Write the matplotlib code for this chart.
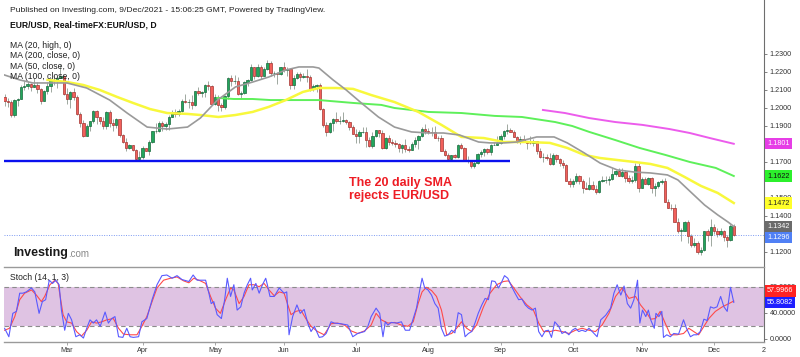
import numpy as np
import pandas as pd
import matplotlib
matplotlib.use("Agg")
import matplotlib.pyplot as plt
import matplotlib.transforms as mtrans

plt.rcParams["font.family"] = ["Liberation Sans", "DejaVu Sans"]

W, H = 800, 357

# --- data: EUR/USD daily candles, 2 Feb - 9 Dec 2021 ---
days = pd.bdate_range("2021-02-02", "2021-12-09")

opens = [
    # Feb
    1.2062, 1.2041, 1.2036, 1.1963, 1.2045, 1.2052, 1.2118, 1.2120, 1.2133, 1.2119,
    1.2130, 1.2105, 1.2041, 1.2092, 1.2120, 1.2156, 1.2149, 1.2167, 1.2175,
    # Mar
    1.2075, 1.2048, 1.2090, 1.2063, 1.1967, 1.1915, 1.1847, 1.1899, 1.1927, 1.1985,
    1.1950, 1.1929, 1.1900, 1.1979, 1.1916, 1.1903, 1.1937, 1.1850, 1.1812, 1.1776,
    1.1794, 1.1764, 1.1718,
    # Apr
    1.1728, 1.1780, 1.1762, 1.1813, 1.1872, 1.1872, 1.1916, 1.1899, 1.1910, 1.1950,
    1.1978, 1.1964, 1.1983, 1.2037, 1.2034, 1.2035, 1.2016, 1.2097, 1.2085, 1.2088,
    1.2126, 1.2122,
    # May
    1.2020, 1.2063, 1.2016, 1.2004, 1.2066, 1.2165, 1.2148, 1.2150, 1.2075, 1.2081,
    1.2144, 1.2153, 1.2225, 1.2175, 1.2227, 1.2180, 1.2214, 1.2250, 1.2192, 1.2195,
    1.2190,
    # Jun
    1.2225, 1.2212, 1.2214, 1.2128, 1.2166, 1.2190, 1.2172, 1.2178, 1.2174, 1.2107,
    1.2121, 1.2125, 1.1995, 1.1906, 1.1864, 1.1917, 1.1940, 1.1925, 1.1928, 1.1936,
    1.1924, 1.1896,
    # Jul
    1.1858, 1.1847, 1.1865, 1.1866, 1.1822, 1.1790, 1.1843, 1.1875, 1.1862, 1.1777,
    1.1835, 1.1812, 1.1806, 1.1800, 1.1779, 1.1794, 1.1771, 1.1769, 1.1802, 1.1820,
    1.1842, 1.1885,
    # Aug
    1.1870, 1.1869, 1.1867, 1.1835, 1.1834, 1.1762, 1.1736, 1.1719, 1.1739, 1.1729,
    1.1795, 1.1780, 1.1712, 1.1709, 1.1675, 1.1697, 1.1747, 1.1755, 1.1773, 1.1756,
    1.1795, 1.1796,
    # Sep
    1.1807, 1.1842, 1.1873, 1.1879, 1.1869, 1.1841, 1.1819, 1.1825, 1.1813, 1.1807,
    1.1806, 1.1817, 1.1763, 1.1725, 1.1727, 1.1724, 1.1688, 1.1741, 1.1719, 1.1696,
    1.1684, 1.1596,
    # Oct
    1.1579, 1.1595, 1.1620, 1.1597, 1.1556, 1.1552, 1.1573, 1.1552, 1.1531, 1.1592,
    1.1599, 1.1601, 1.1607, 1.1632, 1.1651, 1.1623, 1.1643, 1.1609, 1.1597, 1.1602,
    1.1680,
    # Nov
    1.1558, 1.1607, 1.1580, 1.1610, 1.1555, 1.1567, 1.1589, 1.1594, 1.1479, 1.1446,
    1.1445, 1.1369, 1.1319, 1.1319, 1.1368, 1.1289, 1.1237, 1.1250, 1.1198, 1.1210,
    1.1318, 1.1294,
    # Dec
    1.1338, 1.1319, 1.1301, 1.1315, 1.1285, 1.1266, 1.1343,
]
highs = [
    1.2075, 1.2058, 1.2042, 1.2050, 1.2055, 1.2128, 1.2150, 1.2149, 1.2140, 1.2169,
    1.2145, 1.2110, 1.2098, 1.2145, 1.2168, 1.2181, 1.2180, 1.2243, 1.2183,
    1.2113, 1.2094, 1.2113, 1.2070, 1.1978, 1.1932, 1.1912, 1.1929, 1.1990, 1.1989,
    1.1952, 1.1952, 1.1985, 1.1990, 1.1938, 1.1943, 1.1940, 1.1856, 1.1834, 1.1800,
    1.1797, 1.1771, 1.1760,
    1.1789, 1.1780, 1.1821, 1.1873, 1.1914, 1.1928, 1.1928, 1.1920, 1.1960, 1.1990,
    1.1995, 1.1994, 1.2048, 1.2080, 1.2048, 1.2071, 1.2097, 1.2117, 1.2097, 1.2134,
    1.2150, 1.2127,
    1.2077, 1.2070, 1.2030, 1.2072, 1.2172, 1.2181, 1.2182, 1.2172, 1.2097, 1.2150,
    1.2160, 1.2245, 1.2230, 1.2245, 1.2240, 1.2226, 1.2266, 1.2262, 1.2205, 1.2200,
    1.2225,
    1.2254, 1.2227, 1.2219, 1.2185, 1.2198, 1.2200, 1.2195, 1.2219, 1.2182, 1.2135,
    1.2132, 1.2138, 1.2000, 1.1920, 1.1920, 1.1945, 1.1975, 1.1955, 1.1975, 1.1938,
    1.1929, 1.1903,
    1.1885, 1.1875, 1.1895, 1.1895, 1.1840, 1.1868, 1.1880, 1.1880, 1.1880, 1.1838,
    1.1852, 1.1827, 1.1822, 1.1805, 1.1800, 1.1829, 1.1790, 1.1810, 1.1840, 1.1849,
    1.1892, 1.1909,
    1.1891, 1.1893, 1.1900, 1.1845, 1.1850, 1.1770, 1.1752, 1.1741, 1.1746, 1.1802,
    1.1806, 1.1785, 1.1733, 1.1713, 1.1706, 1.1749, 1.1764, 1.1775, 1.1778, 1.1801,
    1.1810, 1.1846,
    1.1857, 1.1875, 1.1909, 1.1887, 1.1875, 1.1845, 1.1844, 1.1848, 1.1816, 1.1845,
    1.1830, 1.1818, 1.1780, 1.1750, 1.1743, 1.1752, 1.1750, 1.1746, 1.1721, 1.1712,
    1.1688, 1.1613,
    1.1608, 1.1641, 1.1626, 1.1605, 1.1586, 1.1616, 1.1595, 1.1572, 1.1600, 1.1624,
    1.1624, 1.1624, 1.1669, 1.1658, 1.1667, 1.1665, 1.1655, 1.1625, 1.1620, 1.1692,
    1.1692,
    1.1616, 1.1614, 1.1617, 1.1616, 1.1581, 1.1597, 1.1608, 1.1610, 1.1494, 1.1465,
    1.1464, 1.1386, 1.1335, 1.1373, 1.1375, 1.1298, 1.1275, 1.1262, 1.1226, 1.1319,
    1.1330, 1.1383,
    1.1353, 1.1334, 1.1335, 1.1320, 1.1297, 1.1355, 1.1354,
]
lows = [
    1.2011, 1.2003, 1.1952, 1.1952, 1.2011, 1.2048, 1.2099, 1.2105, 1.2092, 1.2117,
    1.2085, 1.2023, 1.2037, 1.2077, 1.2091, 1.2130, 1.2109, 1.2166, 1.2071,
    1.2022, 1.2000, 1.2043, 1.1963, 1.1893, 1.1836, 1.1844, 1.1870, 1.1916, 1.1911,
    1.1910, 1.1885, 1.1882, 1.1893, 1.1873, 1.1888, 1.1840, 1.1805, 1.1762, 1.1772,
    1.1761, 1.1712, 1.1704,
    1.1715, 1.1760, 1.1740, 1.1805, 1.1862, 1.1865, 1.1870, 1.1878, 1.1876, 1.1948,
    1.1950, 1.1955, 1.1980, 1.2025, 1.2000, 1.1995, 1.2010, 1.2070, 1.2063, 1.2062,
    1.2101, 1.2019,
    1.2015, 1.1986, 1.1985, 1.1995, 1.2050, 1.2124, 1.2131, 1.2070, 1.2052, 1.2076,
    1.2120, 1.2150, 1.2160, 1.2170, 1.2160, 1.2177, 1.2210, 1.2175, 1.2170, 1.2133,
    1.2185,
    1.2200, 1.2180, 1.2107, 1.2104, 1.2160, 1.2150, 1.2165, 1.2144, 1.2093, 1.2093,
    1.2088, 1.1990, 1.1893, 1.1847, 1.1862, 1.1870, 1.1915, 1.1912, 1.1920, 1.1910,
    1.1880, 1.1858,
    1.1808, 1.1807, 1.1860, 1.1782, 1.1782, 1.1780, 1.1838, 1.1837, 1.1772, 1.1772,
    1.1795, 1.1795, 1.1783, 1.1755, 1.1752, 1.1756, 1.1753, 1.1764, 1.1781, 1.1770,
    1.1838, 1.1856,
    1.1853, 1.1845, 1.1835, 1.1818, 1.1762, 1.1731, 1.1716, 1.1706, 1.1720, 1.1722,
    1.1773, 1.1710, 1.1694, 1.1665, 1.1664, 1.1690, 1.1730, 1.1734, 1.1746, 1.1736,
    1.1793, 1.1795,
    1.1801, 1.1830, 1.1855, 1.1865, 1.1840, 1.1806, 1.1802, 1.1809, 1.1770, 1.1798,
    1.1791, 1.1746, 1.1723, 1.1702, 1.1710, 1.1684, 1.1683, 1.1700, 1.1676, 1.1667,
    1.1592, 1.1562,
    1.1563, 1.1583, 1.1578, 1.1529, 1.1550, 1.1542, 1.1547, 1.1524, 1.1529, 1.1586,
    1.1584, 1.1571, 1.1602, 1.1620, 1.1620, 1.1618, 1.1590, 1.1585, 1.1584, 1.1586,
    1.1535,
    1.1555, 1.1575, 1.1571, 1.1528, 1.1513, 1.1554, 1.1576, 1.1478, 1.1446, 1.1433,
    1.1366, 1.1308, 1.1263, 1.1314, 1.1250, 1.1226, 1.1225, 1.1186, 1.1185, 1.1205,
    1.1259, 1.1235,
    1.1301, 1.1285, 1.1290, 1.1262, 1.1228, 1.1263, 1.1289,
]
closes = [
    1.2041, 1.2036, 1.1963, 1.2045, 1.2052, 1.2118, 1.2120, 1.2133, 1.2119, 1.2130,
    1.2105, 1.2041, 1.2092, 1.2120, 1.2156, 1.2149, 1.2167, 1.2175, 1.2075,
    1.2048, 1.2090, 1.2063, 1.1967, 1.1915, 1.1847, 1.1899, 1.1927, 1.1985, 1.1950,
    1.1929, 1.1900, 1.1979, 1.1916, 1.1903, 1.1937, 1.1850, 1.1812, 1.1776, 1.1794,
    1.1764, 1.1718, 1.1728,
    1.1780, 1.1762, 1.1813, 1.1872, 1.1872, 1.1916, 1.1899, 1.1910, 1.1950, 1.1978,
    1.1964, 1.1983, 1.2037, 1.2034, 1.2035, 1.2016, 1.2097, 1.2085, 1.2088, 1.2126,
    1.2122, 1.2020,
    1.2063, 1.2016, 1.2004, 1.2066, 1.2165, 1.2148, 1.2150, 1.2075, 1.2081, 1.2144,
    1.2153, 1.2225, 1.2175, 1.2227, 1.2180, 1.2214, 1.2250, 1.2192, 1.2195, 1.2190,
    1.2225,
    1.2212, 1.2214, 1.2128, 1.2166, 1.2190, 1.2172, 1.2178, 1.2174, 1.2107, 1.2121,
    1.2125, 1.1995, 1.1906, 1.1864, 1.1917, 1.1940, 1.1925, 1.1928, 1.1936, 1.1924,
    1.1896, 1.1858,
    1.1847, 1.1865, 1.1866, 1.1822, 1.1790, 1.1843, 1.1875, 1.1862, 1.1777, 1.1835,
    1.1812, 1.1806, 1.1800, 1.1779, 1.1794, 1.1771, 1.1769, 1.1802, 1.1820, 1.1842,
    1.1885, 1.1870,
    1.1869, 1.1867, 1.1835, 1.1834, 1.1762, 1.1736, 1.1719, 1.1739, 1.1729, 1.1795,
    1.1780, 1.1712, 1.1709, 1.1675, 1.1697, 1.1747, 1.1755, 1.1773, 1.1756, 1.1795,
    1.1796, 1.1807,
    1.1842, 1.1873, 1.1879, 1.1869, 1.1841, 1.1819, 1.1825, 1.1813, 1.1807, 1.1806,
    1.1817, 1.1763, 1.1725, 1.1727, 1.1724, 1.1688, 1.1741, 1.1719, 1.1696, 1.1684,
    1.1596, 1.1579,
    1.1595, 1.1620, 1.1597, 1.1556, 1.1552, 1.1573, 1.1552, 1.1531, 1.1592, 1.1599,
    1.1601, 1.1607, 1.1632, 1.1651, 1.1623, 1.1643, 1.1609, 1.1597, 1.1602, 1.1680,
    1.1558,
    1.1607, 1.1580, 1.1610, 1.1555, 1.1567, 1.1589, 1.1594, 1.1479, 1.1446, 1.1445,
    1.1369, 1.1319, 1.1319, 1.1368, 1.1289, 1.1237, 1.1250, 1.1198, 1.1210, 1.1318,
    1.1294, 1.1338,
    1.1319, 1.1301, 1.1315, 1.1285, 1.1266, 1.1343, 1.1296,
]

# moving averages (trading-day number, price)
ma20_day = [0, 4.6, 8.6, 19, 25, 32, 37.3, 43.4, 49.5, 55.7, 59.6, 64.8, 70.3, 75.5,
            80.4, 85.6, 89.6, 93.9, 95.7, 100, 104, 108.6, 113.8, 118.7, 123.9, 129,
            133.6, 138.5, 144.3, 147.7, 152, 156, 162, 167.3, 171.3, 176.5, 181.3,
            186.5, 191.7, 196.6, 201.8, 205, 208.9, 213.1, 217.1, 220.2, 222]
ma20_val = [1.2183, 1.2156, 1.2139, 1.2139, 1.2111, 1.2044, 1.1972, 1.1894, 1.1883,
            1.1894, 1.1944, 1.2044, 1.2117, 1.2144, 1.2172, 1.2211, 1.2228, 1.2228,
            1.2222, 1.2156, 1.2100, 1.2028, 1.1950, 1.1894, 1.1867, 1.1861, 1.1861,
            1.1850, 1.1811, 1.1806, 1.1806, 1.1811, 1.1839, 1.1839, 1.1806, 1.1750,
            1.1694, 1.1656, 1.1644, 1.1639, 1.1628, 1.1600, 1.1533, 1.1461, 1.1406,
            1.1367, 1.1342]
ma50_day = [13.1, 19, 23.9, 29, 34.3, 39.1, 44.3, 49.5, 55.7, 59.6, 65.1, 70.3, 75.5,
            80.4, 85.6, 90.8, 95.7, 100.9, 106.1, 111.6, 118.7, 126, 133, 139.1,
            145.9, 152, 159, 166, 171.3, 176.5, 181.3, 186.5, 191.7, 196.6, 201.8,
            207, 212, 217.1, 222]
ma50_val = [1.2156, 1.2144, 1.2128, 1.2100, 1.2061, 1.2028, 1.1994, 1.1972, 1.1967,
            1.1961, 1.1950, 1.1961, 1.1978, 1.2006, 1.2044, 1.2089, 1.2111, 1.2111,
            1.2106, 1.2072, 1.2033, 1.1978, 1.1906, 1.1839, 1.1833, 1.1811, 1.1811,
            1.1806, 1.1778, 1.1739, 1.1722, 1.1711, 1.1700, 1.1689, 1.1667, 1.1617,
            1.1567, 1.1528, 1.1472]
ma100_day = [64.8, 69.7, 75.5, 81, 85.6, 95.7, 106.1, 114.7, 118.7, 129, 139.1, 149.2,
             157.5, 167.6, 172.8, 178, 185.9, 193.3, 201.2, 208.6, 216.5, 222]
ma100_val = [1.2056, 1.2050, 1.2050, 1.2044, 1.2044, 1.2044, 1.2028, 1.2017, 1.2000,
             1.1978, 1.1972, 1.1956, 1.1950, 1.1922, 1.1900, 1.1867, 1.1822, 1.1778,
             1.1739, 1.1700, 1.1667, 1.1622]
ma200_day = [163.9, 170.6, 178, 185.9, 194.2, 202.4, 208.6, 214.7, 222]
ma200_val = [1.1989, 1.1972, 1.1944, 1.1922, 1.1906, 1.1883, 1.1861, 1.1833, 1.1801]

# stochastic (14, 1, 3): %K (blue) and %D (red)
k_day = [0.0, 1.3, 2.5, 3.6, 4.6, 5.6, 6.6, 8.2, 9.2, 10.5,
         11.5, 12.5, 13.6, 14.6, 15.6, 16.6, 17.3, 18.3, 19.4, 20.4,
         21.7, 22.9, 24.0, 25.0, 26.0, 27.0, 28.0, 29.1, 30.6, 31.6,
         32.6, 33.6, 34.7, 36.0, 37.2, 38.2, 39.2, 40.8, 41.8, 43.3,
         44.9, 46.4, 47.9, 49.4, 51.0, 52.5, 54.0, 56.1, 57.4, 58.6,
         60.1, 61.2, 62.2, 62.9, 63.7, 64.7, 66.0, 67.0, 67.8, 68.8,
         69.8, 70.8, 71.9, 72.9, 73.9, 74.9, 75.4, 76.5, 77.5, 78.5,
         79.5, 80.0, 80.8, 82.1, 83.6, 85.1, 85.9, 86.6, 87.7, 89.0,
         90.0, 91.2, 92.3, 93.3, 94.3, 95.8, 96.8, 97.9, 99.4, 100.4,
         102.4, 104.5, 106.0, 107.5, 109.6, 110.6, 111.6, 113.1, 114.2, 115.2,
         115.9, 116.7, 117.7, 119.3, 120.8, 122.0, 123.3, 124.4, 125.4, 126.4,
         127.1, 127.9, 128.9, 130.0, 131.0, 132.0, 133.0, 134.0, 135.1, 136.1,
         137.1, 138.1, 139.1, 140.2, 141.2, 142.2, 143.2, 144.2, 145.3, 146.3,
         147.3, 148.3, 149.3, 150.4, 151.4, 152.2, 153.2, 154.4, 155.4, 156.5,
         157.5, 158.5, 159.5, 160.6, 161.6, 162.6, 163.6, 164.6, 165.6, 166.5,
         167.5, 168.7, 169.7, 170.7, 171.8, 172.8, 173.8, 174.8, 175.8, 176.9,
         177.9, 178.9, 180.4, 181.5, 183.0, 184.5, 185.5, 186.5, 187.6, 188.6,
         189.6, 190.6, 191.6, 192.7, 193.4, 194.2, 195.2, 196.0, 196.7, 197.8,
         198.3, 199.2, 200.1, 200.6, 201.6, 202.7, 203.7, 205.2, 206.7, 207.6,
         208.8, 209.8, 210.8, 211.8, 212.9, 213.9, 214.9, 215.9, 216.9, 218.0,
         219.0, 220.0, 221.0, 222.0]
k_val = [16, 3, 39, 42, 70, 70, 72, 78, 72, 39,
         57, 60, 90, 85, 90, 83, 44, 13, 39, 29,
         3, 6, 1, 16, 29, 24, 29, 19, 41, 24,
         31, 34, 3, 2, 16, 3, 2, 3, 26, 31,
         60, 83, 97, 98, 93, 97, 91, 88, 98, 90,
         90, 90, 70, 54, 57, 37, 31, 60, 93, 65,
         83, 44, 49, 70, 83, 93, 75, 85, 70, 83,
         93, 83, 65, 65, 78, 70, 72, 6, 34, 52,
         39, 45, 24, 11, 19, 2, 3, 8, 26, 24,
         23, 21, 3, 8, 11, 19, 34, 47, 39, 3,
         26, 21, 25, 24, 26, 13, 13, 31, 47, 75,
         93, 78, 75, 67, 54, 47, 16, 4, 6, 13,
         9, 40, 37, 3, 8, 11, 24, 39, 52, 62,
         60, 89, 88, 78, 88, 97, 93, 80, 70, 60,
         61, 52, 47, 44, 47, 11, 3, 12, 13, 2,
         26, 19, 8, 11, 6, 13, 16, 11, 13, 11,
         16, 11, 3, 29, 36, 47, 70, 83, 67, 81,
         54, 47, 60, 90, 24, 44, 34, 44, 29, 16,
         39, 34, 42, 2, 6, 3, 8, 7, 29, 16,
         3, 6, 6, 11, 30, 28, 49, 47, 49, 65,
         49, 42, 79, 55.8082]
d_day = [0.0, 1.5, 3.1, 4.6, 6.1, 8.2, 9.7, 11.2, 12.2, 13.8,
         15.3, 16.3, 17.8, 18.9, 20.4, 21.9, 23.4, 25.0, 26.5, 28.0,
         29.6, 31.1, 33.1, 34.7, 36.2, 38.2, 40.3, 41.8, 43.3, 44.9,
         46.4, 48.4, 50.5, 52.5, 54.5, 56.1, 57.6, 59.6, 61.2, 62.7,
         64.2, 65.7, 67.3, 68.8, 69.8, 71.4, 72.9, 74.4, 75.9, 77.5,
         79.0, 80.5, 82.1, 83.6, 85.1, 86.1, 87.2, 88.7, 90.2, 91.7,
         93.3, 95.3, 97.3, 99.4, 101.4, 103.5, 105.5, 107.5, 109.6, 111.6,
         113.1, 114.7, 116.7, 118.8, 120.8, 122.8, 124.4, 125.9, 127.1, 128.4,
         130.0, 131.5, 133.0, 134.6, 136.1, 137.6, 139.1, 140.7, 142.2, 143.7,
         145.8, 147.8, 149.8, 151.9, 153.4, 154.9, 157.0, 159.0, 161.0, 162.6,
         164.1, 166.1, 167.7, 169.7, 171.8, 173.8, 175.8, 177.9, 179.9, 181.9,
         184.0, 186.0, 188.0, 190.1, 192.1, 193.6, 195.2, 196.7, 198.2, 199.6,
         201.1, 202.7, 204.7, 206.7, 208.3, 209.8, 211.3, 212.9, 214.4, 216.4,
         218.5, 220.5, 222.0]
d_val = [13, 16, 34, 60, 70, 75, 67, 57, 65, 83,
         90, 85, 37, 26, 24, 11, 4, 13, 26, 24,
         26, 29, 31, 16, 7, 6, 6, 19, 34, 57,
         78, 90, 93, 95, 89, 86, 93, 89, 85, 65,
         47, 39, 60, 78, 75, 54, 65, 83, 83, 80,
         85, 75, 66, 72, 70, 54, 37, 42, 44, 31,
         19, 11, 6, 23, 24, 21, 12, 8, 12, 21,
         39, 29, 24, 25, 21, 19, 26, 54, 72, 79,
         74, 65, 44, 6, 8, 16, 26, 16, 11, 21,
         49, 70, 83, 88, 89, 79, 64, 52, 44, 24,
         11, 11, 13, 11, 8, 13, 16, 13, 11, 21,
         39, 65, 78, 62, 65, 52, 42, 30, 31, 42,
         24, 6, 6, 8, 16, 11, 6, 19, 31, 42,
         49, 54, 57.9966]

support_level = 1.1707
support_days = (0, 154)
stoch_band = (20, 80)
price_ticks = [1.12, 1.13, 1.14, 1.15, 1.16, 1.17, 1.18, 1.19, 1.20, 1.21, 1.22, 1.23]
# labels that sit fully under a price tag in the original are left blank
hidden_ticks = [1.13, 1.16, 1.18]
stoch_ticks = [0, 40, 80]

assert len(opens) == len(highs) == len(lows) == len(closes) == len(days)
assert len(k_day) == len(k_val) and len(d_day) == len(d_val)

# --- figure ---
fig = plt.figure(figsize=(W / 100, H / 100), dpi=100)
fig.patch.set_facecolor("white")

def fx(px):
    return px / W

def fy(py):
    return 1 - py / H

ax = fig.add_axes([fx(4), fy(266), fx(764) - fx(4), 266 / H])
sx = fig.add_axes([fx(4), fy(342), fx(764) - fx(4), 75 / H])
for a in (ax, sx):
    a.set_xlim(-0.18, 231.2)
ax.set_ylim(1.1122, 1.26)
sx.set_ylim(-5.1, 110.3)

# candles
o, h, l, c = map(np.array, (opens, highs, lows, closes))
idx = np.arange(len(days))
up = c >= o
body = np.maximum(np.abs(c - o), 0.00012)
bottom = np.minimum(o, c)
ax.vlines(idx, l, h, color="#8f9a90", lw=0.6, zorder=2)
ax.bar(idx[up], body[up], bottom=bottom[up], width=0.72, color="#22a65c",
       edgecolor="#17683b", lw=0.5, zorder=3)
ax.bar(idx[~up], body[~up], bottom=bottom[~up], width=0.72, color="#f2605b",
       edgecolor="#a13431", lw=0.5, zorder=3)

# moving averages
ax.plot(ma200_day, ma200_val, color="#ec5cec", lw=1.4, zorder=4)
ax.plot(ma100_day, ma100_val, color="#5ef05a", lw=1.4, zorder=4)
ax.plot(ma50_day, ma50_val, color="#f8f83c", lw=1.8, zorder=4)
ax.plot(ma20_day, ma20_val, color="#9a9a9a", lw=1.2, zorder=4)

# support and last price
ax.hlines(support_level, support_days[0] - 0.18, support_days[1], color="#0a10ee",
          lw=1.7, zorder=5)
ax.axhline(closes[-1], color="#7c9af2", lw=0.7, ls=(0, (1, 1.5)), zorder=1)

ax.text(105.0, 1.1546, "The 20 daily SMA\nrejects EUR/USD", color="#ee1c24",
        fontsize=9, fontweight="bold", ha="left", va="center", linespacing=1.05,
        zorder=6)

# right-hand price axis
for s in ("left", "top", "bottom"):
    ax.spines[s].set_visible(False)
ax.spines["right"].set_color("#6e6e6e")
ax.spines["right"].set_linewidth(0.8)
ax.set_xticks([])
ax.yaxis.tick_right()
ax.set_yticks(price_ticks)
ax.set_yticklabels(["" if t in hidden_ticks else f"{t:.4f}" for t in price_ticks])
ax.tick_params(axis="y", length=2.5, width=0.6, color="#6e6e6e", labelsize=5.2,
               labelcolor="#333333", pad=1.5)


def tag(axis, val, text, bg, fg, dy=0):
    tr = mtrans.blended_transform_factory(axis.transAxes, axis.transData)
    tr = mtrans.offset_copy(tr, fig=fig, x=3, y=dy, units="dots")
    axis.text(1.0, val, text, transform=tr, ha="left", va="center", fontsize=5.2,
              color=fg, clip_on=False, zorder=10,
              bbox=dict(boxstyle="square,pad=0.3", fc=bg, ec="none"))


tag(ax, ma200_val[-1], f"{ma200_val[-1]:.4f}", "#e63ee6", "white")
tag(ax, ma100_val[-1], f"{ma100_val[-1]:.4f}", "#2cf02c", "#111111")
tag(ax, ma50_val[-1], f"{ma50_val[-1]:.4f}", "#ffff2a", "#222222")
tag(ax, ma20_val[-1], f"{ma20_val[-1]:.4f}", "#6b6b6b", "white")
tag(ax, closes[-1], f"{closes[-1]:.4f}", "#5080f5", "white", dy=-2.5)

# stochastic panel
sx.axhspan(stoch_band[0], stoch_band[1], color="#dfc3e3", lw=0, zorder=0)
for lvl in stoch_band:
    sx.axhline(lvl, color="#8c8c8c", lw=0.8, ls=(0, (4, 3)), zorder=1)
sx.plot(d_day, d_val, color="#ff4a4a", lw=0.8, zorder=3)
sx.plot(k_day, k_val, color="#5a5aff", lw=0.8, zorder=4)

sx.spines["left"].set_visible(False)
for s in ("top", "bottom"):
    sx.spines[s].set_color("#9a9a9a")
    sx.spines[s].set_linewidth(1.0)
sx.spines["right"].set_color("#6e6e6e")
sx.spines["right"].set_linewidth(0.8)
sx.yaxis.tick_right()
sx.set_yticks(stoch_ticks)
sx.set_yticklabels([f"{t:.4f}" for t in stoch_ticks])
sx.tick_params(axis="y", length=2.5, width=0.6, color="#6e6e6e", labelsize=5.2,
               labelcolor="#333333", pad=1.5)

month_idx = [i for i in range(1, len(days)) if days[i].month != days[i - 1].month]
sx.set_xticks(month_idx)
sx.set_xticklabels([days[i].strftime("%b") for i in month_idx])
sx.tick_params(axis="x", length=2, width=0.6, color="#9a9a9a", labelsize=5.2,
               labelcolor="#333333", pad=1.5)
sx.text(231.0, -0.06, "2", transform=mtrans.blended_transform_factory(sx.transData, sx.transAxes),
        fontsize=5.2, color="#333333", ha="center", va="top", clip_on=False)

tag(sx, k_val[-1], f"{k_val[-1]:.4f}", "#1f1fff", "white")
tag(sx, d_val[-1], f"{d_val[-1]:.4f}", "#ff2222", "white", dy=10)

sx.text(0.008, 0.86, "Stoch (14, 1, 3)", transform=sx.transAxes, fontsize=6.2,
        color="#222222", ha="left", va="center")

# header texts and labels
fig.text(fx(10), fy(11), "Published on Investing.com, 9/Dec/2021 - 15:06:25 GMT, Powered by TradingView.",
         fontsize=6.1, color="#222222", va="center")
fig.text(fx(10), fy(25), "EUR/USD, Real-timeFX:EUR/USD, D", fontsize=6.2,
         fontweight="bold", color="#111111", va="center")
for k, lab in enumerate(["MA (20, high, 0)", "MA (200, close, 0)",
                         "MA (50, close, 0)", "MA (100, close, 0)"]):
    fig.text(fx(10), fy(45 + 10.6 * k), lab, fontsize=6.2, color="#222222",
             va="center", zorder=10)

fig.text(fx(13), fy(253), "Investing", fontsize=9, fontweight="bold",
         color="#1a1a1a", va="center")
fig.text(fx(68), fy(254), ".com", fontsize=7, color="#888888", va="center")

fig.savefig("out.png", dpi=100, facecolor="white")
